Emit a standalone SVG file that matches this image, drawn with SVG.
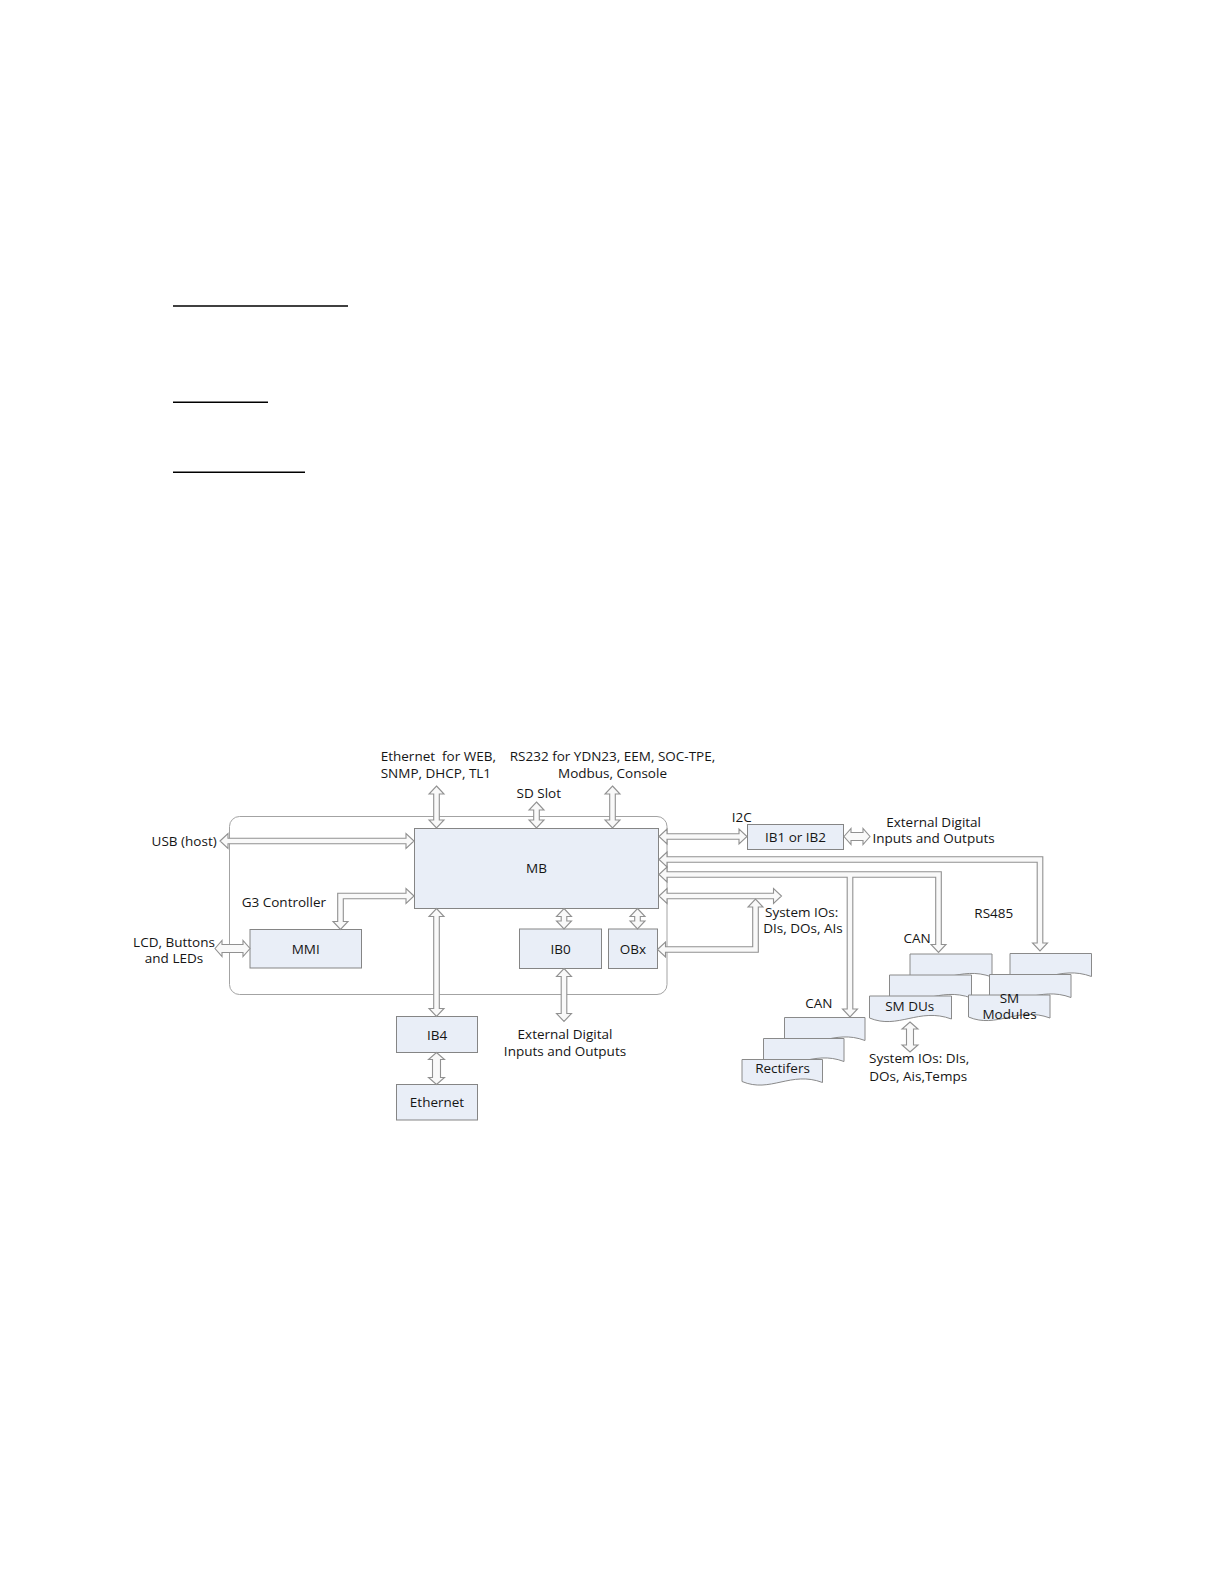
<svg xmlns="http://www.w3.org/2000/svg" width="1224" height="1584" viewBox="0 0 1224 1584">
<style>
.bg{fill:#ffffff}
.ul{stroke:#000;stroke-width:1.4}
.outer{fill:none;stroke:#a3a3a3;stroke-width:1}
.box{fill:#e9eef7;stroke:#858585;stroke-width:1}
.doc{fill:#e9eef7;stroke:#8a8a8a;stroke-width:1}
.arr{fill:#f9f9f9;stroke:#919191;stroke-width:1.1;stroke-linejoin:miter}
text{font-family:"Open Sans","Liberation Sans",sans-serif;font-size:13.5px;fill:#151515}
.m{text-anchor:middle}
.e{text-anchor:end}
</style>
<rect class="bg" x="0" y="0" width="1224" height="1584"/>
<g id="underlines">
<line class="ul" x1="173" y1="306" x2="348" y2="306"/>
<line class="ul" x1="173" y1="402.3" x2="268" y2="402.3"/>
<line class="ul" x1="173" y1="472.3" x2="305" y2="472.3"/>
</g>
<g id="g3-controller">
<rect class="outer" x="229.5" y="816.5" width="437.5" height="178" rx="10" ry="10"/>
<text x="241.7" y="906.7">G3 Controller</text>
</g>
<g id="labels">
<text x="380.7" y="761" xml:space="preserve">Ethernet  for WEB,</text>
<text x="380.7" y="778.3">SNMP, DHCP, TL1</text>
<text class="m" x="612.5" y="761">RS232 for YDN23, EEM, SOC-TPE,</text>
<text class="m" x="612.5" y="778.3">Modbus, Console</text>
<text class="m" x="538.8" y="797.7">SD Slot</text>
<text class="e" x="216.7" y="846">USB (host)</text>
<text class="m" x="741.7" y="821.7">I2C</text>
<text class="m" x="933.6" y="826.7">External Digital</text>
<text class="m" x="933.6" y="843.3">Inputs and Outputs</text>
<text class="m" x="174" y="947.3">LCD, Buttons</text>
<text class="m" x="174" y="963.3">and LEDs</text>
<text x="765" y="916.7">System IOs:</text>
<text x="763.3" y="933.3">DIs, DOs, AIs</text>
<text class="m" x="993.8" y="918.3">RS485</text>
<text class="m" x="917" y="943.3">CAN</text>
<text class="m" x="818.8" y="1007.7">CAN</text>
<text class="m" x="565" y="1039">External Digital</text>
<text class="m" x="565" y="1056">Inputs and Outputs</text>
<text x="869" y="1063.3">System IOs: DIs,</text>
<text x="869.3" y="1080.7">DOs, Ais,Temps</text>
</g>
<g id="MB"><rect class="box" x="414.5" y="828.5" width="244" height="80"/><text class="m" x="536.5" y="873">MB</text></g>
<g id="IB1"><rect class="box" x="747.5" y="824.5" width="96" height="25"/><text class="m" x="795.5" y="841.8">IB1 or IB2</text></g>
<g id="MMI"><rect class="box" x="250" y="929.5" width="111.5" height="38.5"/><text class="m" x="305.7" y="953.5">MMI</text></g>
<g id="IB0"><rect class="box" x="519.5" y="929" width="82" height="39.5"/><text class="m" x="560.5" y="953.5">IB0</text></g>
<g id="OBx"><rect class="box" x="608.5" y="929" width="49" height="39.5"/><text class="m" x="633" y="953.5">OBx</text></g>
<g id="IB4"><rect class="box" x="396.5" y="1016.5" width="81" height="36"/><text class="m" x="437" y="1039.5">IB4</text></g>
<g id="Ethernet"><rect class="box" x="396.5" y="1084.5" width="81" height="35.5"/><text class="m" x="437" y="1107">Ethernet</text></g>
<g id="Rectifiers">
<path class="doc" d="M784.5 1017.5 H865 V1040.5 C833.5 1028.5 812.7 1051.5 784.5 1039.5 Z"/>
<path class="doc" d="M763.5 1038.5 H844 V1061.5 C812.5 1049.5 791.7 1072.5 763.5 1060.5 Z"/>
<path class="doc" d="M742 1059.5 H822.5 V1082.5 C791 1070.5 770.2 1093.5 742 1081.5 Z"/>
<text class="m" x="782.5" y="1072.7">Rectifers</text>
</g>
<g id="SM-DUs">
<path class="doc" d="M910 954 H992 V977 C959.2 965 938.7 988 910 976 Z"/>
<path class="doc" d="M889.5 975 H971.5 V998 C938.7 986 918.2 1009 889.5 997 Z"/>
<path class="doc" d="M869.5 996 H951.5 V1019 C918.7 1007 898.2 1030 869.5 1018 Z"/>
<text class="m" x="909.7" y="1011.3">SM DUs</text>
</g>
<g id="SM-Modules">
<path class="doc" d="M1010 953.5 H1091.5 V976.5 C1058.9 964.5 1038.5 987.5 1010 975.5 Z"/>
<path class="doc" d="M989.5 974.5 H1071 V997.5 C1038.4 985.5 1018 1008.5 989.5 996.5 Z"/>
<path class="doc" d="M968.5 995 H1050 V1018 C1017.4 1006 997 1029 968.5 1017 Z"/>
<text class="m" x="1009.5" y="1002.5">SM</text>
<text class="m" x="1009.5" y="1019.3">Modules</text>
</g>
<g id="connectors">
<polygon class="arr" points="220,841 228,833.5 228,838.2 406,838.2 406,833.5 414,841 406,848.5 406,843.8 228,843.8 228,848.5"/>
<polygon class="arr" points="436.5,786 444,794 439.3,794 439.3,820 444,820 436.5,828 429,820 433.7,820 433.7,794 429,794"/>
<polygon class="arr" points="536.5,802 544,810 539.3,810 539.3,820 544,820 536.5,828 529,820 533.7,820 533.7,810 529,810"/>
<polygon class="arr" points="612.5,786 620,794 615.3,794 615.3,820 620,820 612.5,828 605,820 609.7,820 609.7,794 605,794"/>
<polygon class="arr" points="659,836.5 667,829 667,833.7 739,833.7 739,829 747,836.5 739,844 739,839.3 667,839.3 667,844"/>
<polygon class="arr" points="844,836.5 851,828.5 851,832.5 863,832.5 863,828.5 870,836.5 863,844.5 863,840.5 851,840.5 851,844.5"/>
<polygon class="arr" points="659,859.5 667,852 667,856.7 1042.8,856.7 1042.8,943 1047.5,943 1040,951 1032.5,943 1037.2,943 1037.2,862.3 667,862.3 667,867"/>
<polygon class="arr" points="659,874.5 667,867 667,871.7 941.3,871.7 941.3,944.5 946,944.5 938.5,952.5 931,944.5 935.7,944.5 935.7,877.3 852.8,877.3 852.8,1009 857.5,1009 850,1017 842.5,1009 847.2,1009 847.2,877.3 667,877.3 667,882"/>
<polygon class="arr" points="659,896 667,888.5 667,893.2 773.5,893.2 773.5,888.5 781.5,896 773.5,903.5 773.5,898.8 667,898.8 667,903.5"/>
<polygon class="arr" points="657.5,949.5 665.5,942 665.5,946.7 752.7,946.7 752.7,907 748,907 755.5,899 763,907 758.3,907 758.3,952.3 665.5,952.3 665.5,957"/>
<polygon class="arr" points="564,908.5 571.5,916.5 566.8,916.5 566.8,921 571.5,921 564,929 556.5,921 561.2,921 561.2,916.5 556.5,916.5"/>
<polygon class="arr" points="637.5,908.5 645,916.5 640.3,916.5 640.3,921 645,921 637.5,929 630,921 634.7,921 634.7,916.5 630,916.5"/>
<polygon class="arr" points="564,968.5 571.5,976.5 566.8,976.5 566.8,1013.5 571.5,1013.5 564,1021.5 556.5,1013.5 561.2,1013.5 561.2,976.5 556.5,976.5"/>
<polygon class="arr" points="436.5,908.5 444,916.5 439.3,916.5 439.3,1008.5 444,1008.5 436.5,1016.5 429,1008.5 433.7,1008.5 433.7,916.5 429,916.5"/>
<polygon class="arr" points="436.5,1052.5 444.5,1059.5 440.5,1059.5 440.5,1077.5 444.5,1077.5 436.5,1084.5 428.5,1077.5 432.5,1077.5 432.5,1059.5 428.5,1059.5"/>
<polygon class="arr" points="215,948.5 222,940.5 222,944.5 243,944.5 243,940.5 250,948.5 243,956.5 243,952.5 222,952.5 222,956.5"/>
<polygon class="arr" points="414,896 406,888.5 406,893.2 337.7,893.2 337.7,921.5 333,921.5 340.5,929.5 348,921.5 343.3,921.5 343.3,898.8 406,898.8 406,903.5"/>
<polygon class="arr" points="910,1022 918,1029 913.5,1029 913.5,1045 918,1045 910,1052 902,1045 906.5,1045 906.5,1029 902,1029"/>
</g>
</svg>
